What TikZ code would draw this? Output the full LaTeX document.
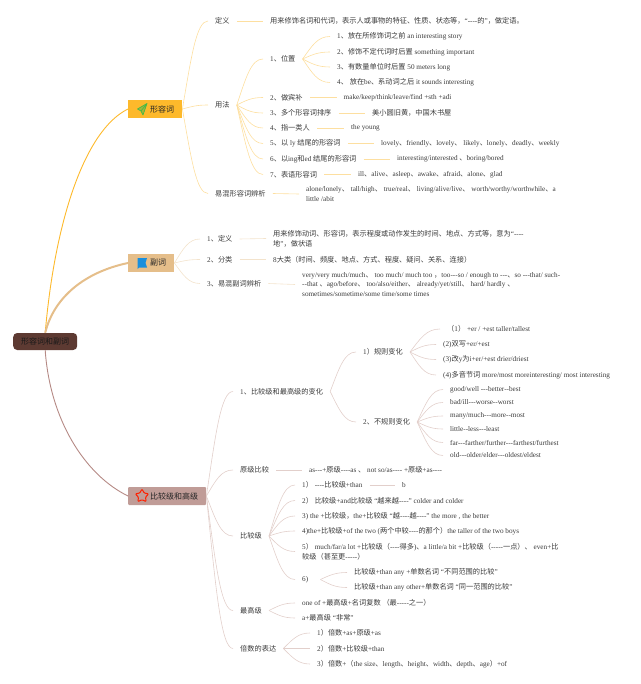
\documentclass[tikz,border=0pt]{standalone}
\usepackage{fontspec}
\usetikzlibrary{shapes.geometric,calc}
\setmainfont{Liberation Serif}[Ligatures=TeXOff]
\newfontfamily\cjkf{Noto Sans CJK SC}
% automatic switch between Latin and CJK fonts
\newXeTeXintercharclass\cjkclass
\newcount\cjkidx
\newcommand\setcjkrange[2]{\cjkidx=#1 \loop\ifnum\cjkidx<#2 \XeTeXcharclass\cjkidx=\cjkclass \advance\cjkidx by 1 \repeat}
\setcjkrange{"4E00}{"9FFF}
\setcjkrange{"3000}{"3040}
\setcjkrange{"FF00}{"FFF0}
\XeTeXcharclass"201C=0
\XeTeXcharclass"201D=0
\XeTeXinterchartoks 0 \cjkclass={\cjkf}
\XeTeXinterchartoks 4095 \cjkclass={\cjkf}
\XeTeXinterchartoks \cjkclass 0={\rmfamily}
\XeTeXinterchartoks \cjkclass 4095={\rmfamily}
\XeTeXinterchartokenstate=1
\definecolor{txtc}{HTML}{3A3A3A}
\definecolor{orgA}{HTML}{FDB92B}
\definecolor{orgB}{HTML}{FDDFA0}
\definecolor{tanA}{HTML}{E5BE8A}
\definecolor{tanB}{HTML}{F3E3CC}
\definecolor{redA}{HTML}{B58A85}
\definecolor{redB}{HTML}{E2CFCB}
\definecolor{rootc}{HTML}{5D3A32}
\tikzset{
  txt/.style={anchor=west,xshift=-7pt,inner xsep=7pt,inner ysep=1pt,text=txtc,align=left,
    font=\fontsize{7.2}{9.7}\selectfont},
  mainbox/.style={anchor=west,minimum height=18pt,inner xsep=8pt,inner ysep=0pt,text=black!85,
    font=\fontsize{8}{9}\selectfont},
  orgc/.style={orgB,line width=.6pt},
  tanc/.style={tanB,line width=.6pt},
  redc/.style={redB,line width=.6pt},
}
\newcommand\fan[2]{\foreach \a/\b in {#2}{\draw[#1] let \p1=(\a.east),\p2=(\b.west) in (\p1) .. controls ({\x1+0.35*(\x2-\x1)},{\y1+0.6*(\y2-\y1)}) and ({\x1+0.55*(\x2-\x1)},\y2) .. (\p2);}}
\newcommand\leaf[2]{\foreach \a/\b in {#2}{\draw[#1] (\a.east) -- (\b.west);}}
\begin{document}
\begin{tikzpicture}[x=1pt,y=-1pt]
\useasboundingbox (0,0) rectangle (640,684);
% main nodes
\node[mainbox,fill=rootc,rounded corners=4pt,minimum height=17pt,text=black!90] (root) at (13,341.5) {形容词和副词};
\node[mainbox,fill=orgA] (adj) at (128,109) {\hspace*{14pt}形容词};
\node[mainbox,fill=tanA] (adv) at (128,263) {\hspace*{14pt}副词};
\node[mainbox,fill=redA!85!white,rounded corners=1pt] (comp) at (128,496) {\hspace*{14pt}比较级和高级};
% icons
\draw[draw=green!45!gray,fill=green!30!orgA!70!gray,line width=.7pt,line join=round] (147,103.5) -- (137.5,109) -- (141,111) -- (143,115) -- cycle (141,111) -- (147,103.5);
\fill[blue!40!cyan!85!black!90!white] (137.5,258) -- (147,258) -- (145.5,263) -- (147,267.5) -- (139,267.5) -- (137.5,269) -- cycle;
\node[star,star points=5,star point ratio=1.9,draw=red!75!orange,line width=1pt,rounded corners=1pt,minimum size=14pt,inner sep=0pt] (stari) at (142,496) {};
% adjective branch
\node[txt] (a1) at (215,21) {定义};
\node[txt] (a1t) at (270,21) {用来修饰名词和代词，表示人或事物的特征、性质、状态等，“----的”，做定语。};
\node[txt] (a2) at (215,105) {用法};
\node[txt] (a3) at (215,193.5) {易混形容词辨析};
\node[txt] (a3t) at (306,194) {alone/lonely、 tall/high、 true/real、 living/alive/live、 worth/worthy/worthwhile、a\\little /abit};
\node[txt] (u1) at (270,59) {1、位置};
\node[txt] (u2) at (270,97.5) {2、做宾补};
\node[txt] (u3) at (270,113) {3、多个形容词排序};
\node[txt] (u4) at (270,128) {4、指一类人};
\node[txt] (u5) at (270,143.5) {5、以 ly 结尾的形容词};
\node[txt] (u6) at (270,159) {6、以ing和ed 结尾的形容词};
\node[txt] (u7) at (270,174.5) {7、表语形容词};
\node[txt] (p1) at (337,36.5) {1、放在所修饰词之前 an interesting story};
\node[txt] (p2) at (337,52) {2、修饰不定代词时后置 something important};
\node[txt] (p3) at (337,67) {3、有数量单位时后置 50 meters long};
\node[txt] (p4) at (337,82.5) {4、 放在be、系动词之后 it sounds interesting};
\node[txt] (u2t) at (343.5,97.5) {make/keep/think/leave/find +sth +adi};
\node[txt] (u3t) at (372,113) {美小圆旧黄，中国木书屋};
\node[txt] (u4t) at (351,128) {the young};
\node[txt] (u5t) at (381,143.5) {lovely、friendly、lovely、 likely、lonely、deadly、weekly};
\node[txt] (u6t) at (397,159) {interesting/interested 、boring/bored};
\node[txt] (u7t) at (358,174.5) {ill、alive、asleep、awake、afraid、alone、glad};
% adverb branch
\node[txt] (b1) at (207,239) {1、定义};
\node[txt] (b2) at (207,259.5) {2、分类};
\node[txt] (b3) at (207,283.5) {3、易混副词辨析};
\node[txt] (b1t) at (273,238.5) {用来修饰动词、形容词，表示程度或动作发生的时间、地点、方式等，意为“----\\地”，做状语};
\node[txt] (b2t) at (273,259.5) {8大类（时间、频度、地点、方式、程度、疑问、关系、连接）};
\node[txt] (b3t) at (302,284.5) {very/very much/much、 too much/ much too ，too---so / enough to ---、so ---that/ such-\\--that 、ago/before、 too/also/either、 already/yet/still、 hard/ hardly 、\\sometimes/sometime/some time/some times};
% comparison branch
\node[txt] (c1) at (240,391.5) {1、比较级和最高级的变化};
\node[txt] (c2) at (240,470) {原级比较};
\node[txt] (c3) at (240,536) {比较级};
\node[txt] (c4) at (240,610.5) {最高级};
\node[txt] (c5) at (240,648.5) {倍数的表达};
\node[txt] (r1) at (363,352) {1）规则变化};
\node[txt] (r2) at (363,422) {2、不规则变化};
\node[txt] (r11) at (447,329) {（1） +er / +est taller/tallest};
\node[txt] (r12) at (443,344.5) {(2)双写+er/+est};
\node[txt] (r13) at (443,359.5) {(3)改y为i+er/+est drier/driest};
\node[txt] (r14) at (443,375) {(4)多音节词 more/most moreinteresting/ most interesting};
\node[txt] (r21) at (450,389.5) {good/well ---better--best};
\node[txt] (r22) at (450,402.5) {bad/ill---worse--worst};
\node[txt] (r23) at (450,416) {many/much---more--most};
\node[txt] (r24) at (450,429) {little--less---least};
\node[txt] (r25) at (450,442.5) {far---farther/further---farthest/furthest};
\node[txt] (r26) at (450,455.5) {old---older/elder---oldest/eldest};
\node[txt] (c2t) at (309,470) {as---+原级----as 、 not so/as---- +原级+as----};
\node[txt] (k1) at (302,485) {1） ----比较级+than};
\node[txt] (k1t) at (402,485) {b};
\node[txt] (k2) at (302,500.5) {2） 比较级+and比较级 “越来越----” colder and colder};
\node[txt] (k3) at (302,516) {3) the +比较级，the+比较级 “越----越----” the more , the better};
\node[txt] (k4) at (302,531) {4)the+比较级+of the two (两个中较----的那个）the taller of the two boys};
\node[txt] (k5) at (302,551.5) {5） much/far/a lot +比较级（----得多)、a little/a bit +比较级（-----一点）、 even+比\\较级（甚至更-----）};
\node[txt] (k6) at (302,579.5) {6)\hspace{5pt}};
\node[txt] (k61) at (354,572.5) {比较级+than any +单数名词 “不同范围的比较”};
\node[txt] (k62) at (354,587.5) {比较级+than any other+单数名词 “同一范围的比较”};
\node[txt] (m1) at (302,603) {one of +最高级+名词复数 （最-----之一）};
\node[txt] (m2) at (302,618) {a+最高级 “非常”};
\node[txt] (t1) at (317,633) {1）倍数+as+原级+as};
\node[txt] (t2) at (317,648.5) {2）倍数+比较级+than};
\node[txt] (t3) at (317,664) {3）倍数+（the size、length、height、width、depth、age）+of};
% main connectors
\draw[orgA,line width=.9pt] (root.north) .. controls (55,220) and (85,130) .. (adj.west);
\draw[tanA,line width=2pt] (root.north) .. controls (54,297) and (85,272) .. (adv.west);
\draw[redA,line width=.9pt] (root.south) .. controls (50,420) and (85,475) .. (comp.west);
% branch connectors
\fan{orgc}{adj/a1,adj/a2,adj/a3,a2/u1,a2/u2,a2/u3,a2/u4,a2/u5,a2/u6,a2/u7,u1/p1,u1/p2,u1/p3,u1/p4}
\leaf{orgc}{a1/a1t,a3/a3t,u2/u2t,u3/u3t,u4/u4t,u5/u5t,u6/u6t,u7/u7t}
\fan{tanc}{adv/b1,adv/b2,adv/b3}
\leaf{tanc}{b1/b1t,b2/b2t,b3/b3t}
\fan{redc}{comp/c1,comp/c2,comp/c3,comp/c4,comp/c5,c1/r1,c1/r2,r1/r11,r1/r12,r1/r13,r1/r14,r2/r21,r2/r22,r2/r23,r2/r24,r2/r25,r2/r26,c3/k1,c3/k2,c3/k3,c3/k4,c3/k5,c3/k6,k6/k61,k6/k62,c4/m1,c4/m2,c5/t1,c5/t2,c5/t3}
\leaf{redc}{c2/c2t,k1/k1t}
\end{tikzpicture}
\end{document}
